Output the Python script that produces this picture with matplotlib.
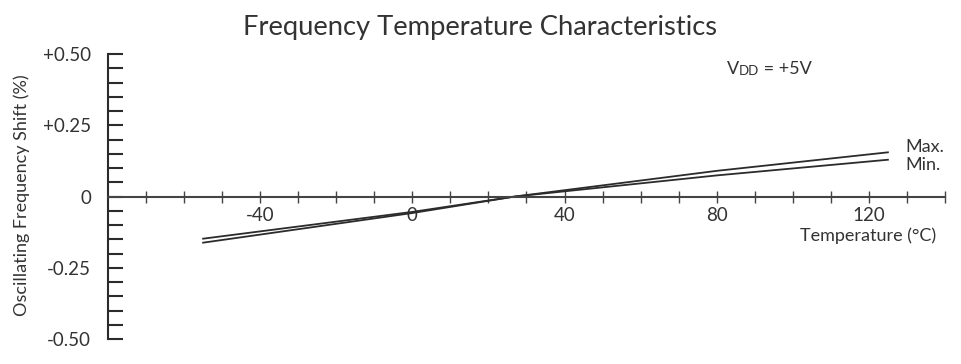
import matplotlib.pyplot as plt
import numpy as np

# values
temps = [-55, 0, 27, 80, 125]
shift_max = [-0.162, -0.058, 0.0, 0.090, 0.155]
shift_min = [-0.148, -0.054, 0.0, 0.074, 0.129]

x_major = [-40, 0, 40, 80, 120]
x_labels = ["-40", "0", "40", "80", "120"]
y_major = [-0.5, -0.25, 0, 0.25, 0.5]
y_labels = ["-0.50", "-0.25", "0", "+0.25", "+0.50"]

plt.rcParams['font.family'] = ['Lato', 'DejaVu Sans']
ink = '#2b2b2b'
text_col = '#333333'
fs = 13

fig = plt.figure(figsize=(9.62, 3.64), dpi=100)
ax = fig.add_axes([108 / 962, 25 / 364, 837 / 962, 285 / 364])

ax.plot(temps, shift_max, color=ink, linewidth=1.3)
ax.plot(temps, shift_min, color=ink, linewidth=1.3)

ax.set_xlim(-80, 140)
ax.set_ylim(-0.5, 0.5)

for side in ['top', 'right']:
    ax.spines[side].set_visible(False)
ax.spines['bottom'].set_position(('data', 0))
ax.spines['bottom'].set_color('#444444')
ax.spines['bottom'].set_linewidth(1.5)
ax.spines['left'].set_color(ink)
ax.spines['left'].set_linewidth(1.5)

ax.set_xticks(x_major)
ax.set_xticklabels(x_labels)
ax.set_xticks(np.arange(-70, 141, 10), minor=True)
ax.tick_params(axis='x', which='both', direction='inout', length=9, width=1,
               color='#444444', labelsize=13.5, labelcolor=text_col, pad=3)

ax.set_yticks(y_major)
ax.set_yticklabels(y_labels)
ax.set_yticks(np.arange(-0.5, 0.501, 0.05), minor=True)
ax.tick_params(axis='y', which='both', direction='in', length=11, width=1.5,
               color=ink, labelsize=13.5, labelcolor=text_col, pad=12)

fig.text(480 / 962, 1 - 27 / 364, "Frequency Temperature Characteristics",
         ha='center', va='center', fontsize=19.7, color=text_col)
fig.text(22 / 962, 1 - 195 / 364, "Oscillating Frequency Shift (%)",
         rotation=90, ha='center', va='center', fontsize=fs, color=text_col)
fig.text(936 / 962, 1 - 236 / 364, "Temperature (\u00b0C)",
         ha='right', va='center', fontsize=fs, color=text_col)

v = fig.text(727 / 962, 1 - 74 / 364, "V", ha='left', va='baseline',
             fontsize=fs, color=text_col)
dd = ax.annotate("DD", xy=(1, 0), xycoords=v, va='bottom', ha='left',
                 fontsize=9.5, color=text_col)
ax.annotate(" = +5V", xy=(1, 0), xycoords=dd, va='bottom', ha='left',
            fontsize=fs, color=text_col)

fig.text(905 / 962, 1 - 147 / 364, "Max.", ha='left', va='center',
         fontsize=fs, color=text_col)
fig.text(905 / 962, 1 - 165 / 364, "Min.", ha='left', va='center',
         fontsize=fs, color=text_col)

fig.savefig('out.png', dpi=100, facecolor='white')
